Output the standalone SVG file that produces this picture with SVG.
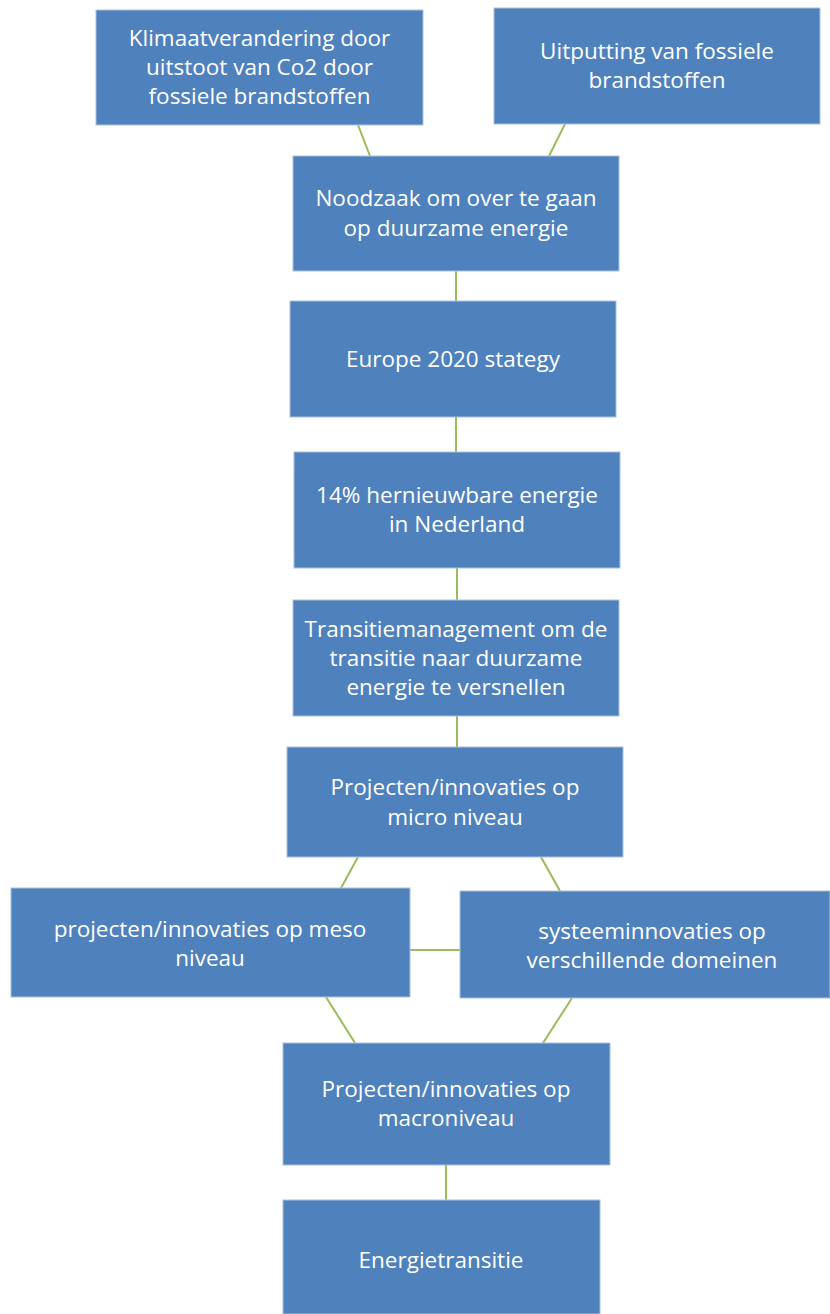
<svg xmlns="http://www.w3.org/2000/svg" width="830" height="1314" viewBox="0 0 830 1314">
<style>
.box{fill:#4f81bd;stroke:#a9c1df;stroke-width:1}
.t{font-family:"Open Sans","Liberation Sans",sans-serif;font-size:22.5px;fill:#ffffff;text-anchor:middle}
.c{stroke:#9bbb59;stroke-width:2;fill:none}
</style>
<rect width="830" height="1314" fill="#ffffff"/>
<g id="connectors">
<line class="c" x1="358" y1="125" x2="370" y2="156"/>
<line class="c" x1="565" y1="124" x2="549" y2="156"/>
<line class="c" x1="456" y1="271" x2="456" y2="301"/>
<line class="c" x1="456" y1="417" x2="456" y2="452"/>
<line class="c" x1="457" y1="568" x2="457" y2="600"/>
<line class="c" x1="457" y1="716" x2="457" y2="747"/>
<line class="c" x1="358" y1="857" x2="341" y2="888"/>
<line class="c" x1="541" y1="857" x2="560" y2="891"/>
<line class="c" x1="410" y1="950" x2="460" y2="950"/>
<line class="c" x1="326" y1="997" x2="355" y2="1043"/>
<line class="c" x1="572" y1="998" x2="543" y2="1043"/>
<line class="c" x1="446" y1="1165" x2="446" y2="1200"/>
</g>
<g id="n1"><rect class="box" x="96" y="10" width="327" height="115"/>
<text class="t" x="259.5" y="46">Klimaatverandering door</text>
<text class="t" x="259.5" y="75">uitstoot van Co2 door</text>
<text class="t" x="259.5" y="104">fossiele brandstoffen</text></g>
<g id="n2"><rect class="box" x="494" y="8" width="326" height="116"/>
<text class="t" x="657" y="59">Uitputting van fossiele</text>
<text class="t" x="657" y="88">brandstoffen</text></g>
<g id="n3"><rect class="box" x="293" y="156" width="326" height="115"/>
<text class="t" x="456" y="206">Noodzaak om over te gaan</text>
<text class="t" x="456" y="236">op duurzame energie</text></g>
<g id="n4"><rect class="box" x="290" y="301" width="326" height="116"/>
<text class="t" x="453" y="367">Europe 2020 stategy</text></g>
<g id="n5"><rect class="box" x="294" y="452" width="326" height="116"/>
<text class="t" x="457" y="503">14% hernieuwbare energie</text>
<text class="t" x="457" y="532">in Nederland</text></g>
<g id="n6"><rect class="box" x="293" y="600" width="326" height="116"/>
<text class="t" x="456" y="637">Transitiemanagement om de</text>
<text class="t" x="456" y="666">transitie naar duurzame</text>
<text class="t" x="456" y="695">energie te versnellen</text></g>
<g id="n7"><rect class="box" x="287" y="747" width="336" height="110"/>
<text class="t" x="455" y="795">Projecten/innovaties op</text>
<text class="t" x="455" y="825">micro niveau</text></g>
<g id="n8"><rect class="box" x="11" y="888" width="399" height="109"/>
<text class="t" x="210" y="937">projecten/innovaties op meso</text>
<text class="t" x="210" y="966">niveau</text></g>
<g id="n9"><rect class="box" x="460" y="891" width="370" height="107"/>
<text class="t" x="652" y="939">systeeminnovaties op</text>
<text class="t" x="652" y="968">verschillende domeinen</text></g>
<g id="n10"><rect class="box" x="283" y="1043" width="327" height="122"/>
<text class="t" x="446" y="1097">Projecten/innovaties op</text>
<text class="t" x="446" y="1126">macroniveau</text></g>
<g id="n11"><rect class="box" x="283" y="1200" width="317" height="114"/>
<text class="t" x="441" y="1268">Energietransitie</text></g>
</svg>
